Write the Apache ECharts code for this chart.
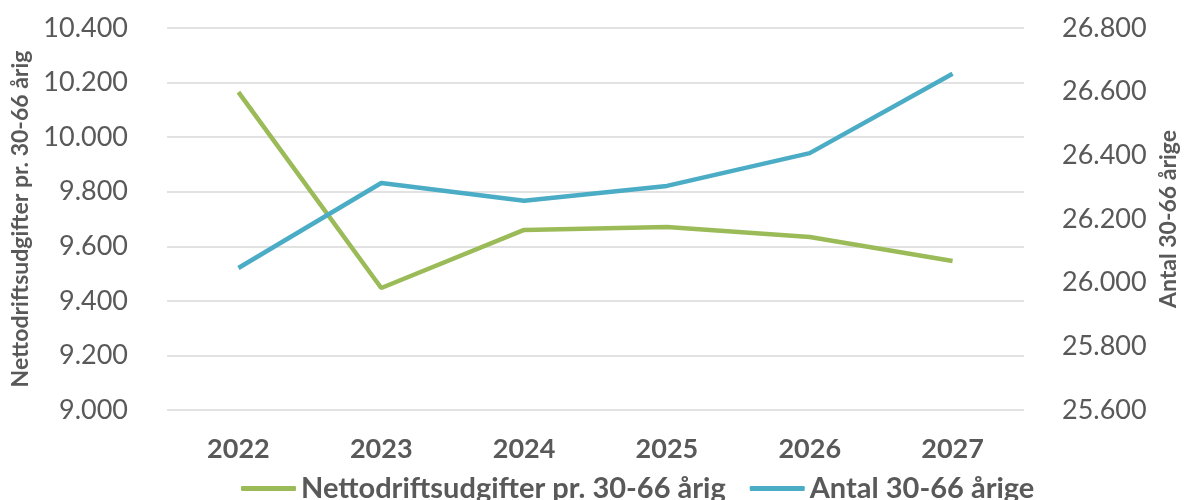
<!DOCTYPE html>
<html>
<head>
<meta charset="utf-8">
<script src="https://cdn.jsdelivr.net/npm/echarts@6/dist/echarts.min.js"></script>
<style>
  html, body { margin: 0; padding: 0; background: #fff; }
  #chart { width: 1184px; height: 500px; }
</style>
</head>
<body>
<div id="chart"></div>
<script>
// data
const years = ['2022', '2023', '2024', '2025', '2026', '2027']
const nettoUdgifter = [10165, 9447, 9660, 9671, 9634, 9546]
const antal = [26046, 26313, 26257, 26304, 26407, 26656]

// 10400 -> "10.400"
const thousands = v => {
  const s = String(v)
  return s.slice(0, s.length - 3) + '.' + s.slice(-3)
}

const chart = echarts.init(document.getElementById('chart'))
const font = 'Lato, "Open Sans", sans-serif'
const grey = '#595959'

const option = {
  textStyle: { fontFamily: font },
  grid: { left: 167, right: 160, top: 28, bottom: 90, outerBoundsMode: 'none' },
  legend: {
    top: 469,
    left: 236,
    itemWidth: 55,
    itemHeight: 5,
    itemGap: 24,
    icon: 'roundRect',
    textStyle: { fontSize: 29, fontWeight: 'bold', color: grey, fontFamily: font },
    data: ['Nettodriftsudgifter pr. 30-66 årig', 'Antal 30-66 årige']
  },
  xAxis: {
    type: 'category',
    data: years,
    axisLine: { show: false },
    axisTick: { show: false },
    axisLabel: { fontSize: 27, fontWeight: 'bold', color: grey, margin: 26 }
  },
  yAxis: [
    {
      type: 'value',
      min: 9000,
      max: 10400,
      interval: 200,
      name: 'Nettodriftsudgifter pr. 30-66 årig',
      nameLocation: 'middle',
      nameGap: 134,
      nameTextStyle: { fontSize: 23, fontWeight: 'bold', color: grey },
      axisLabel: { fontSize: 27, color: grey, margin: 39, formatter: thousands },
      splitLine: { lineStyle: { color: '#d9d9d9', width: 1.5 } }
    },
    {
      type: 'value',
      min: 25600,
      max: 26800,
      interval: 200,
      name: 'Antal 30-66 årige',
      nameLocation: 'middle',
      nameGap: 132,
      nameRotate: 90,
      nameTextStyle: { fontSize: 23, fontWeight: 'bold', color: grey },
      axisLabel: { fontSize: 27, color: grey, margin: 38, formatter: thousands },
      splitLine: { show: false }
    }
  ],
  series: [
    {
      name: 'Nettodriftsudgifter pr. 30-66 årig',
      type: 'line',
      yAxisIndex: 0,
      data: nettoUdgifter,
      symbol: 'none',
      color: '#9BBB59',
      lineStyle: { width: 4.5, color: '#9BBB59' }
    },
    {
      name: 'Antal 30-66 årige',
      type: 'line',
      yAxisIndex: 1,
      data: antal,
      symbol: 'none',
      color: '#4BACC6',
      lineStyle: { width: 4.5, color: '#4BACC6' }
    }
  ]
}

chart.setOption(option)
</script>
</body>
</html>
